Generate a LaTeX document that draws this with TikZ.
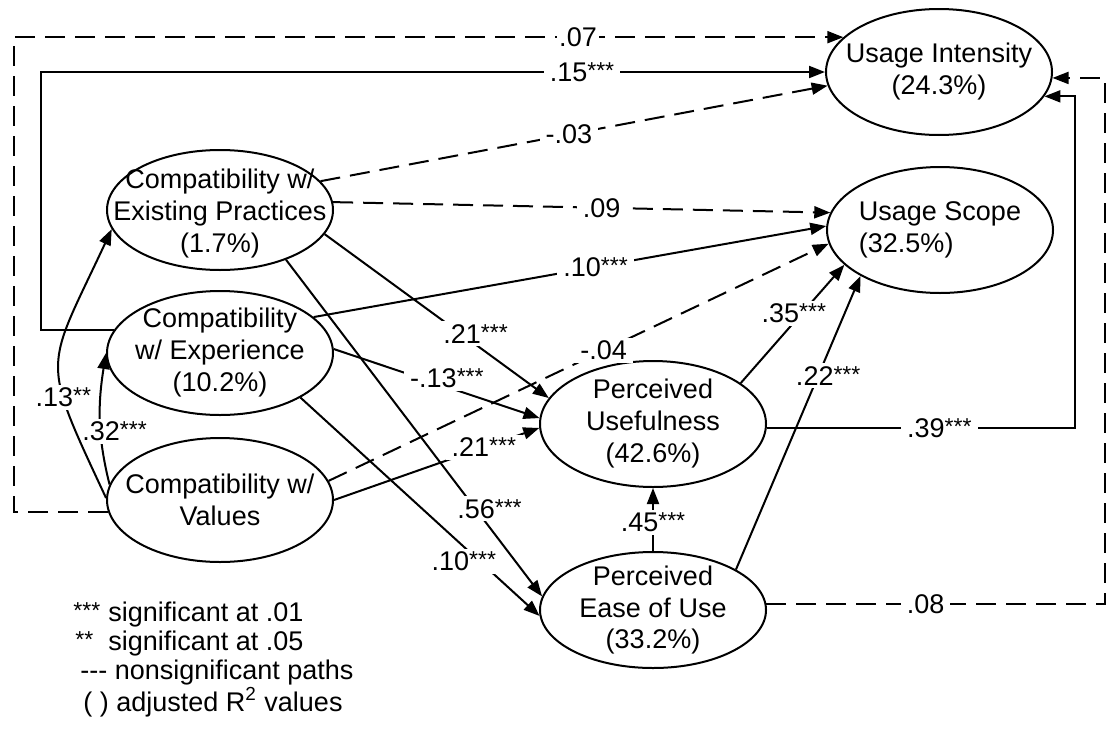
\documentclass[tikz,border=0pt]{standalone}
\usepackage{fontspec}
\setmainfont{Liberation Sans}
\usetikzlibrary{arrows.meta, positioning, shapes.geometric}

\newcommand{\stars}[1]{\raisebox{1.5pt}{\fontsize{11.5}{11.5}\selectfont #1}}

\begin{document}
\begin{tikzpicture}[
    x=0.5pt, y=-0.5pt,
    font=\fontsize{13.5}{16}\selectfont,
    var/.style={ellipse, draw, line width=1pt, inner sep=0pt,
                minimum width=113pt},
    vtext/.style={align=center, inner sep=0pt},
    link/.style={line width=1pt, -{Triangle[length=8pt, width=6pt]}},
    nslink/.style={link, dash pattern=on 10pt off 5pt},
    lbl/.style={fill=white, inner xsep=3pt, inner ysep=1.5pt},
  ]
    \useasboundingbox (0,0) rectangle (1112,728);

    % Constructs
    \node[var, minimum height=63pt] (ui)  at (939,72)  {};
    \node[var, minimum height=63pt] (us)  at (940,230) {};
    \node[var, minimum height=60pt] (cep) at (220,210) {};
    \node[var, minimum height=62pt] (cex) at (220,353) {};
    \node[var, minimum height=62pt] (cv)  at (220,500) {};
    \node[var, minimum height=63pt] (pu)  at (653,424) {};
    \node[var, minimum height=58pt] (peu) at (653,610) {};

    \node[vtext] (ui-t)  at (ui)  {Usage Intensity\\(24.3\%)};
    \node[vtext, align=left] (us-t) at (us) {Usage Scope\\(32.5\%)};
    \node[vtext] (cep-t) at ([yshift=-2pt]cep.center) {Compatibility w/\\Existing Practices\\(1.7\%)};
    \node[vtext] (cex-t) at (cex) {Compatibility\\w/ Experience\\(10.2\%)};
    \node[vtext] (cv-t)  at (cv)  {Compatibility w/\\Values};
    \node[vtext] (pu-t)  at (pu)  {Perceived\\Usefulness\\(42.6\%)};
    \node[vtext] (peu-t) at (peu) {Perceived\\Ease of Use\\(33.2\%)};

    % Rails on the right
    \coordinate (railA) at (1075,0);
    \coordinate (railB) at (1105,0);

    % Outer paths into usage intensity
    \draw[nslink] (cv.186) -- ++(-94,0) |- (ui.160);
    \node[lbl, inner xsep=1pt] (l07) at (578,37) {.07};
    \draw[link] (cex.168) -- ++(-73,0) |- (ui.west);
    \node[lbl] (l15) at (582,72) {.15\stars{***}};

    % Paths from the compatibility constructs
    \draw[nslink] (cep.16) -- node[lbl, pos=0.49] (l03) {-.03} (ui.187);
    \draw[nslink] (cep.4) -- node[lbl, pos=0.54] (l09) {.09} (us.171);
    \draw[link] (cex.21) -- node[lbl, pos=0.55] (l10a) {.10\stars{***}} (us.178);
    \draw[nslink] (cv.10) -- node[lbl, pos=0.55] (l04) {-.04} (us.187);
    \draw[link] (cep.-13) -- node[lbl, pos=0.62, xshift=6pt, yshift=1pt] (l21a) {.21\stars{***}} (pu.166);
    \draw[link] (cex.2) -- node[lbl, pos=0.55, yshift=4.5pt] (l13) {-.13\stars{***}} (pu.177);
    \draw[link] (cv.0) -- node[lbl, pos=0.73] (l21b) {.21\stars{***}} (pu.182);
    \draw[link] (cep.-37) -- node[lbl, pos=0.74, xshift=7pt] (l56) {.56\stars{***}} (peu.173);
    \draw[link] (cex.-29) -- node[lbl, pos=0.75, xshift=-8pt] (l10b) {.10\stars{***}} (peu.183);

    % Correlations among the compatibility constructs
    \draw[link] (cv.172) to[out=104, in=-99]
      node[lbl, inner xsep=1pt, pos=0.4, xshift=7pt] (l32) {.32\stars{***}} (cex.west);
    \draw[link] (cv.179) to[out=115, in=-115, looseness=1.5]
      node[lbl, inner xsep=1pt, pos=0.33] (l13b) {.13\stars{**}} (cep.190);

    % Perceived usefulness / ease of use
    \draw[link] (peu.north) -- node[lbl, inner xsep=1pt, pos=0.45] (l45) {.45\stars{***}} (pu.south);
    \draw[link] (pu.25) -- node[lbl, pos=0.59, xshift=-4pt] (l35) {.35\stars{***}} (us.200);
    \draw[link] (peu.26) -- node[lbl, pos=0.66, xshift=5pt] (l22) {.22\stars{***}} (us.210);
    \draw[link] (pu.-2) -- node[lbl, pos=0.56] (l39) {.39\stars{***}} (pu.-2 -| railA) |- (ui.-13);
    \draw[nslink] (peu.3) -- node[lbl, pos=0.47] (l08) {.08} (peu.3 -| railB) |- (ui.-3);

    % Key
    \node[align=left, inner sep=0pt, anchor=north west, font=\fontsize{13.5}{14.5}\selectfont]
      (key) at (73,602) {%
        \makebox[17.5pt][l]{\stars{***}}significant at .01\\
        \hspace{1pt}\makebox[16.5pt][l]{\stars{**}}significant at .05\\
        \hspace{3.5pt}-{}-{}- nonsignificant paths\\
        \hspace{5pt}( ) adjusted R\textsuperscript{2} values};
  \end{tikzpicture}
\end{document}
